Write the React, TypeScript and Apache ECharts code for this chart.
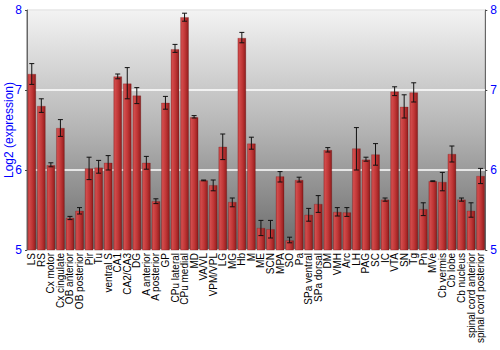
import React, { useEffect, useRef } from "react";
import * as echarts from "echarts";

const categories = ["LS","RS","Cx motor","Cx cingulate","OB anterior","OB posterior","Pir","Tu","ventral S","CA1","CA2/CA3","DG","A anterior","A posterior","GP","CPu lateral","CPu medial","MD","VA/VL","VPM/VPL","LG","MG","Hb","M","ME","SCN","MPA","SO","Pa","SPa ventral","SPa dorsal","DM","VMH","Arc","LH","PAG","SC","IC","VTA","SN","Tg","Pn","MVe","Cb vermis","Cb lobe","Cb nucleus","spinal cord anterior","spinal cord posterior"];

const values = [7.2, 6.8, 6.06, 6.525, 5.4, 5.49, 6.02, 6.03, 6.09, 7.17, 7.08, 6.93, 6.09, 5.61, 6.84, 7.51, 7.91, 6.66, 5.87, 5.81, 6.29, 5.6, 7.65, 6.33, 5.275, 5.26, 5.92, 5.12, 5.875, 5.44, 5.575, 6.25, 5.475, 5.47, 6.27, 6.13, 6.195, 5.63, 6.98, 6.79, 6.97, 5.51, 5.86, 5.85, 6.2, 5.63, 5.49, 5.925];

const errorHigh = [7.33, 6.89, 6.09, 6.63, 5.42, 5.53, 6.16, 6.12, 6.18, 7.2, 7.28, 7.03, 6.17, 5.64, 6.92, 7.57, 7.96, 6.68, 5.875, 5.875, 6.45, 5.65, 7.72, 6.41, 5.37, 5.37, 5.98, 5.16, 5.91, 5.52, 5.68, 6.28, 5.53, 5.53, 6.53, 6.16, 6.33, 5.65, 7.04, 6.94, 7.09, 5.59, 5.865, 5.97, 6.3, 5.65, 5.59, 6.02];

const errorLow = [7.07, 6.72, 6.04, 6.42, 5.38, 5.45, 5.88, 5.96, 6.0, 7.14, 6.89, 6.83, 6.01, 5.58, 6.76, 7.47, 7.86, 6.65, 5.865, 5.74, 6.13, 5.54, 7.59, 6.26, 5.18, 5.15, 5.85, 5.09, 5.85, 5.36, 5.47, 6.225, 5.425, 5.42, 6.0, 6.11, 6.06, 5.61, 6.93, 6.65, 6.85, 5.43, 5.855, 5.74, 6.1, 5.61, 5.41, 5.83];

const yTicks = [5, 6, 7, 8];
const yTitle = "Log2 (expression)";

export default function App() {
  const ref = useRef<HTMLDivElement>(null);
  useEffect(() => {
    if (!ref.current) return;
    const chart = echarts.init(ref.current, undefined, { renderer: "svg" });
    const font = "Liberation Sans, Arial, sans-serif";
    const yAxisBase = {
      type: "value",
      min: yTicks[0],
      max: yTicks[yTicks.length - 1],
      interval: 1,
      axisLabel: { color: "#0000ff", fontSize: 12, fontFamily: font, margin: 5 },
      axisLine: { show: true, lineStyle: { color: "#666", width: 1 } },
      axisTick: { show: true, length: 2, lineStyle: { color: "#444" } },
    };
    chart.setOption({
      animation: false,
      backgroundColor: "#fff",
      graphic: [
        {
          type: "text",
          x: 9,
          y: 130,
          rotation: Math.PI / 2,
          style: {
            text: yTitle,
            fill: "#0000ff",
            fontSize: 12,
            fontFamily: font,
            align: "center",
            verticalAlign: "middle",
          },
        },
      ],
      grid: {
        left: 27,
        right: 14,
        top: 10,
        bottom: 100,
        show: true,
        borderColor: "#666",
        borderWidth: 1,
        backgroundColor: new echarts.graphic.LinearGradient(0, 0, 0, 1, [
          { offset: 0, color: "#f3f3f3" },
          { offset: 0.5, color: "#b4b4b4" },
          { offset: 1, color: "#6a6a6a" },
        ]),
      },
      xAxis: {
        type: "category",
        data: categories,
        axisLine: { show: false },
        axisTick: { show: false },
        axisLabel: {
          rotate: 90,
          interval: 0,
          fontSize: 10,
          fontFamily: font,
          color: "#000",
          margin: 3,
        },
      },
      yAxis: [
        {
          ...yAxisBase,
          position: "left",
          splitLine: { show: true, lineStyle: { color: "#ffffff", width: 1.5 } },
        },
        {
          ...yAxisBase,
          position: "right",
          splitLine: { show: false },
        },
      ],
      series: [
        {
          type: "bar",
          data: values,
          barCategoryGap: "12%",
          itemStyle: {
            color: new echarts.graphic.LinearGradient(0, 0, 1, 0, [
              { offset: 0, color: "#b83a3a" },
              { offset: 0.15, color: "#d24c4c" },
              { offset: 0.55, color: "#c03636" },
              { offset: 0.9, color: "#9c2222" },
              { offset: 1, color: "#7a1616" },
            ]),
            borderColor: "rgba(120,20,20,0.5)",
            borderWidth: 0.5,
          },
        },
        {
          type: "custom",
          data: values.map((_, i) => [i, errorLow[i], errorHigh[i]]),
          renderItem: (params: any, api: any) => {
            const i = api.value(0);
            const lo = api.coord([i, api.value(1)]);
            const hi = api.coord([i, api.value(2)]);
            const hw = 2.5;
            const style = { stroke: "#111", lineWidth: 1 };
            return {
              type: "group",
              children: [
                { type: "line", shape: { x1: lo[0], y1: lo[1], x2: hi[0], y2: hi[1] }, style },
                { type: "line", shape: { x1: lo[0] - hw, y1: lo[1], x2: lo[0] + hw, y2: lo[1] }, style },
                { type: "line", shape: { x1: hi[0] - hw, y1: hi[1], x2: hi[0] + hw, y2: hi[1] }, style },
              ],
            };
          },
          z: 5,
        },
      ],
    });
    return () => chart.dispose();
  }, []);
  return (
    <div
      ref={ref}
      style={{ position: "absolute", left: 0, top: 0, width: 500, height: 350 }}
    />
  );
}
